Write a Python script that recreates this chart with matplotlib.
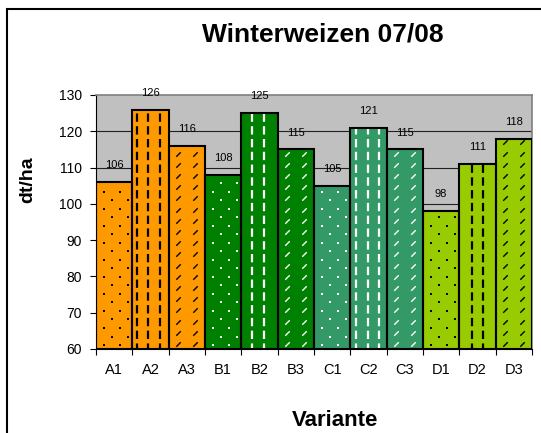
import matplotlib
matplotlib.use("Agg")
import matplotlib.pyplot as plt
from matplotlib.patches import Rectangle
from matplotlib.path import Path
import numpy as np

plt.rcParams['font.family'] = ['Liberation Sans', 'DejaVu Sans']
plt.rcParams['lines.scale_dashes'] = False

# Yield per variant (dt/ha)
categories = ["A1", "A2", "A3", "B1", "B2", "B3", "C1", "C2", "C3", "D1", "D2", "D3"]
values = [106, 126, 116, 108, 125, 115, 105, 121, 115, 98, 111, 118]
group_colors = {"A": "#FF9900", "B": "#008000", "C": "#339966", "D": "#99CC00"}
hatch_colors = {"A": "black", "B": "white", "C": "white", "D": "black"}
y_ticks = [60, 70, 80, 90, 100, 110, 120, 130]

W, H = 541, 433
fig = plt.figure(figsize=(W / 100, H / 100), dpi=100)
fig.patch.set_facecolor("white")

# chart frame
fig.patches.append(Rectangle((7 / W, -0.1), 1.2, 1 - 9 / H + 0.1, transform=fig.transFigure,
                             fill=False, edgecolor="black", linewidth=1.5, zorder=0))

ax_l, ax_r, ax_b, ax_t = 96, 532, 349, 95
ax = fig.add_axes([ax_l / W, (H - ax_b) / H, (ax_r - ax_l) / W, (ax_b - ax_t) / H])
ax.set_facecolor("#C0C0C0")
ymin, ymax = 60, 130
xmin, xmax = -0.5, len(categories) - 0.5
ax.set_xlim(xmin, xmax)
ax.set_ylim(ymin, ymax)

# pixels -> data units
px_x = (xmax - xmin) / (ax_r - ax_l)
px_y = (ymax - ymin) / (ax_b - ax_t)

for g in y_ticks[1:-1]:
    ax.axhline(g, color="#202020", linewidth=0.8, zorder=1)

x = np.arange(len(categories))
slash = Path([(-1, -1), (1, 1)])

for i, (cat, v) in enumerate(zip(categories, values)):
    grp, kind = cat[0], cat[1]
    fc, hc = group_colors[grp], hatch_colors[grp]
    ax.bar(i, v - ymin, bottom=ymin, width=1.0, color=fc, linewidth=0, zorder=2)
    left, right = i - 0.5, i + 0.5
    top = v
    if kind == "1":
        # dotted fill
        step = 8.5 * px_y
        ys = np.arange(ymin + 4 * px_y, top - 3 * px_y, step)
        for r, yy in enumerate(ys):
            fr = (0.22, 0.66) if r % 2 == 0 else (0.44, 0.88)
            ax.scatter([left + f for f in fr], [yy] * 2, marker="s", s=3.2,
                       color=hc, linewidths=0, zorder=2.5)
    elif kind == "2":
        # dashed vertical stripes
        pitch = 11.55 * px_x
        cols = 0.62 + pitch * np.arange(-5, 40)
        cols = cols[(cols > left + 0.08) & (cols < right - 0.08)]
        ax.vlines(cols, ymin, top, colors=hc, linewidth=1.6,
                  linestyles=[(2, (6, 3.2))], zorder=2.5)
    else:
        # short diagonal strokes
        step = 11.2 * px_y
        ys = np.arange(ymin + 5 * px_y, top - 3 * px_y, step)
        for yy in ys:
            ax.plot([left + 0.27, left + 0.72], [yy, yy], linestyle="none", marker=slash,
                    markersize=3.2, markeredgewidth=1.0, color=hc, zorder=2.5)
    ax.bar(i, v - ymin, bottom=ymin, width=1.0, fill=False, edgecolor="black",
           linewidth=1.5, zorder=3)
    ax.annotate(str(v), (i, v), xytext=(0, 8.5), textcoords="offset points",
                ha="center", va="bottom", fontsize=8, color="black", zorder=4)

ax.set_yticks(y_ticks)
ax.set_yticklabels([str(t) for t in y_ticks], fontsize=10)
ax.set_xticks(x)
ax.set_xticklabels(categories, fontsize=10.5)
ax.set_xticks(np.arange(len(categories) + 1) - 0.5, minor=True)
ax.tick_params(axis="x", which="major", length=0, pad=10)
ax.tick_params(axis="x", which="minor", length=4, width=0.8, direction="out")
ax.tick_params(axis="y", length=4, width=0.8, direction="out", pad=6)

for s in ("top", "right"):
    ax.spines[s].set_color("#808080")
    ax.spines[s].set_linewidth(1.2)
for s in ("left", "bottom"):
    ax.spines[s].set_color("black")
    ax.spines[s].set_linewidth(0.8)

fig.text(323 / W, 1 - 34 / H, "Winterweizen 07/08", ha="center", va="center",
         fontsize=19, fontweight="bold")
fig.text(335 / W, 1 - 420 / H, "Variante", ha="center", va="center",
         fontsize=16, fontweight="bold")
fig.text(28 / W, 1 - 180 / H, "dt/ha", ha="center", va="center", rotation=90,
         fontsize=14, fontweight="bold")

fig.savefig("out.png", dpi=100)
